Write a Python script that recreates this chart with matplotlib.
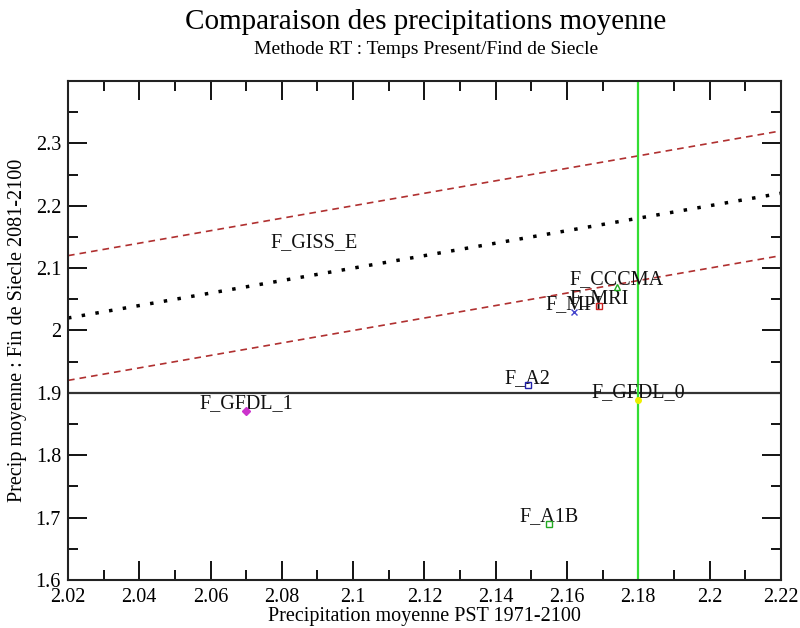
import matplotlib
matplotlib.use("Agg")
from matplotlib import pyplot as plt
from matplotlib.ticker import MultipleLocator, FormatStrFormatter, FuncFormatter
import numpy as np

plt.rcParams['font.family'] = ['Liberation Serif', 'DejaVu Serif']

# Precipitations moyennes par modele : present (PST) et fin de siecle
modeles = ['F_A1B', 'F_A2', 'F_GFDL_1', 'F_GFDL_0', 'F_MPI', 'F_MRI', 'F_CCCMA', 'F_GISS_E']
precip_pst = [2.155, 2.149, 2.070, 2.180, 2.162, 2.169, 2.174, 2.089]
precip_fds = [1.690, 1.912, 1.871, 1.889, 2.030, 2.040, 2.070, 2.130]
marqueurs = ['s', 's', 'D', 'o', 'x', 's', '^', 'none']
couleurs = ['#22aa22', '#2222aa', '#cc33cc', '#eeee00', '#4444cc', '#cc2222', '#22aa22', 'white']
remplis = [False, False, True, True, True, False, False, False]

# Reference : droite 1:1 et bande +/- 0.1, valeurs observees
bornes_x = np.array([2.02, 2.22])
ecart = 0.1
obs_fds = 1.9
obs_pst = 2.18

fig = plt.figure(figsize=(8, 6.28), dpi=100)
ax = fig.add_axes([0.085, 0.0765, 0.891, 0.7945])

ax.plot(bornes_x, bornes_x + ecart, color='#b03030', linestyle=(0, (4, 3)), linewidth=1.2)
ax.plot(bornes_x, bornes_x - ecart, color='#b03030', linestyle=(0, (4, 3)), linewidth=1.2)
ax.plot(bornes_x, bornes_x, color='black', linestyle=(0, (1, 3)), linewidth=2.5)
ax.axhline(obs_fds, color='#333333', linewidth=1.6)
ax.axvline(obs_pst, color='#33dd33', linewidth=1.6)

for nom, xv, yv, m, c, plein in zip(modeles, precip_pst, precip_fds, marqueurs, couleurs, remplis):
    ax.annotate(nom, (xv, yv), xytext=(0, 5), textcoords='offset points',
                ha='center', va='center', fontsize=14.5, color='#111111', zorder=2)
    if m != 'none':
        ax.plot([xv], [yv], marker=m, markersize=4, linestyle='none',
                markeredgecolor=c, markerfacecolor=c if plein else 'none',
                markeredgewidth=1.0, zorder=3)

ax.set_xlim(2.02, 2.22)
ax.set_ylim(1.6, 2.4)
ax.xaxis.set_major_locator(MultipleLocator(0.02))
ax.xaxis.set_minor_locator(MultipleLocator(0.01))
ax.yaxis.set_major_locator(MultipleLocator(0.1))
ax.yaxis.set_minor_locator(MultipleLocator(0.05))
ax.xaxis.set_major_formatter(FormatStrFormatter('%g'))
# pas d'etiquette sur le bord haut
ax.yaxis.set_major_formatter(FuncFormatter(lambda v, p: '' if v > 2.35 else '%g' % round(v, 2)))
ax.tick_params(which='both', direction='in', top=True, right=True, labelsize=14.5, width=1.3)
ax.tick_params(which='major', length=14)
ax.tick_params(axis='x', which='major', pad=6)
ax.tick_params(axis='y', which='major', pad=5)
ax.tick_params(which='minor', length=7)
for s in ax.spines.values():
    s.set_linewidth(1.5)
    s.set_color('#222222')

ax.set_xlabel('Precipitation moyenne PST 1971-2100', fontsize=14.5, labelpad=0)
ax.set_ylabel('Precip moyenne : Fin de Siecle 2081-2100', fontsize=14.5, labelpad=6)

fig.text(0.532, 0.965, 'Comparaison des precipitations moyenne', ha='center', va='center', fontsize=21)
fig.text(0.532, 0.921, 'Methode RT : Temps Present/Find de Siecle', ha='center', va='center', fontsize=14)

fig.savefig('out.png', dpi=100)
